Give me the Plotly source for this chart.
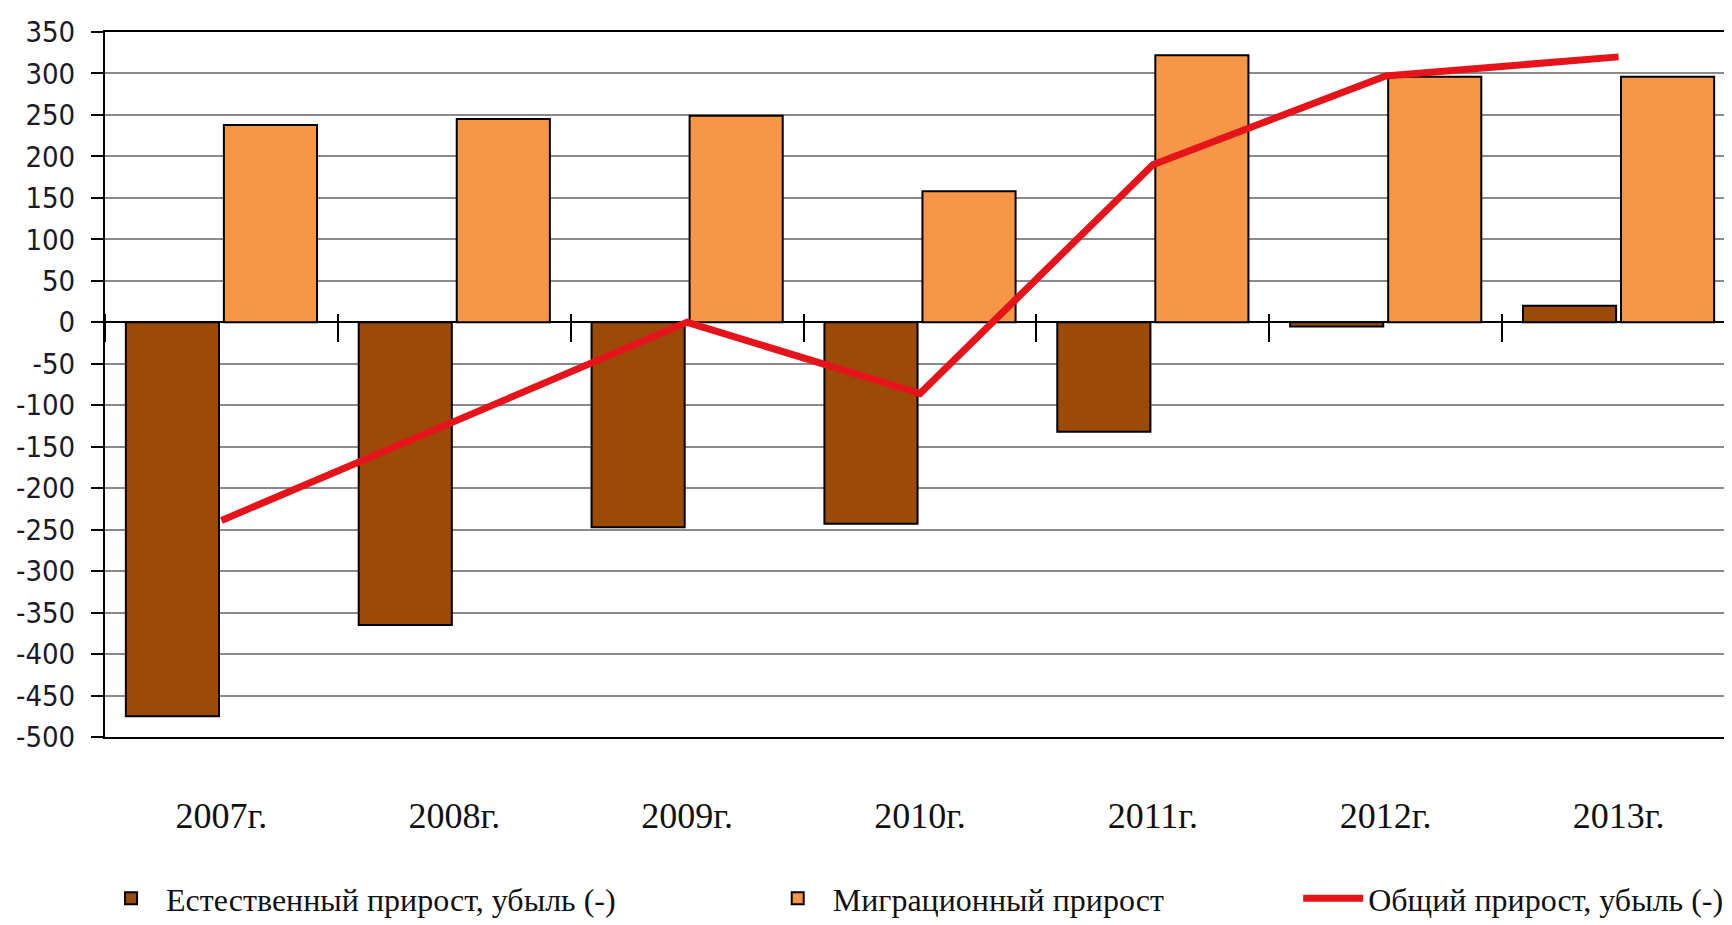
import plotly.graph_objects as go

years = ["2007г.", "2008г.", "2009г.", "2010г.", "2011г.", "2012г.", "2013г."]
natural = [-475, -365, -247, -243, -132, -5, 20]
migration = [238, 245, 249, 158, 322, 296, 296]
total = [-239, -120, 0, -86, 190, 297, 320]
y_ticks = list(range(-500, 351, 50))
y_ticktext = [str(v) for v in y_ticks]

name_nat = "Естественный прирост, убыль (-)"
name_mig = "Миграционный прирост"
name_tot = "Общий прирост, убыль (-)"

BROWN = "#9C4A08"
ORANGE = "#F79646"
RED = "#E5141B"

fig = go.Figure()
fig.add_trace(go.Bar(x=years, y=natural, name=name_nat, marker=dict(color=BROWN, line=dict(color="black", width=2)),
                     legend="legend", showlegend=True))
fig.add_trace(go.Bar(x=years, y=migration, name=name_mig, marker=dict(color=ORANGE, line=dict(color="black", width=2)),
                     legend="legend2", showlegend=True))
fig.add_trace(go.Scatter(x=years, y=total, name=name_tot, mode="lines", line=dict(color=RED, width=7),
                         xaxis="x2", legend="legend3", showlegend=True))

legend_font = dict(family="Liberation Serif, Times New Roman, serif", size=32, color="#111")
common_leg = dict(orientation="h", yanchor="middle", y=-0.229, xanchor="left", font=legend_font,
                  bgcolor="rgba(0,0,0,0)", itemwidth=60, visible=True)

fig.update_layout(
    width=1732, height=925,
    margin=dict(l=97, r=5, t=24, b=196),
    paper_bgcolor="white", plot_bgcolor="white",
    showlegend=True,
    barmode="group", bargap=0.158, bargroupgap=0.05,
    legend=dict(x=-0.0055, **common_leg),
    legend2=dict(x=0.4035, **common_leg),
    legend3=dict(x=0.732, **common_leg),
    xaxis=dict(type="category", categoryorder="array", categoryarray=years, automargin=False,
               showline=True, linecolor="black", linewidth=2, mirror=True,
               ticks="", showgrid=False, ticklabelstandoff=46,
               tickfont=dict(family="Liberation Serif, Times New Roman, serif", size=36, color="#111")),
    xaxis2=dict(type="category", categoryorder="array", categoryarray=years, matches="x",
                overlaying="x", anchor="free", position=0.601, side="bottom", automargin=False,
                showline=False, showgrid=False, showticklabels=False,
                ticks="outside", tickson="boundaries", ticklen=28, tickwidth=2, tickcolor="black"),
    yaxis=dict(range=[-500, 350], tickmode="array", tickvals=y_ticks, ticktext=y_ticktext, automargin=False,
               showline=True, linecolor="black", linewidth=2, mirror=True,
               ticks="outside", ticklen=12, tickwidth=2, tickcolor="black",
               showgrid=True, gridcolor="#8a8a8a", gridwidth=1.5,
               zeroline=True, zerolinecolor="black", zerolinewidth=2,
               ticklabelstandoff=10,
               tickfont=dict(family="DejaVu Sans Condensed, DejaVu Sans, sans-serif", size=29, color="#1a1a2a")),
)

fig.write_html("out.html")
